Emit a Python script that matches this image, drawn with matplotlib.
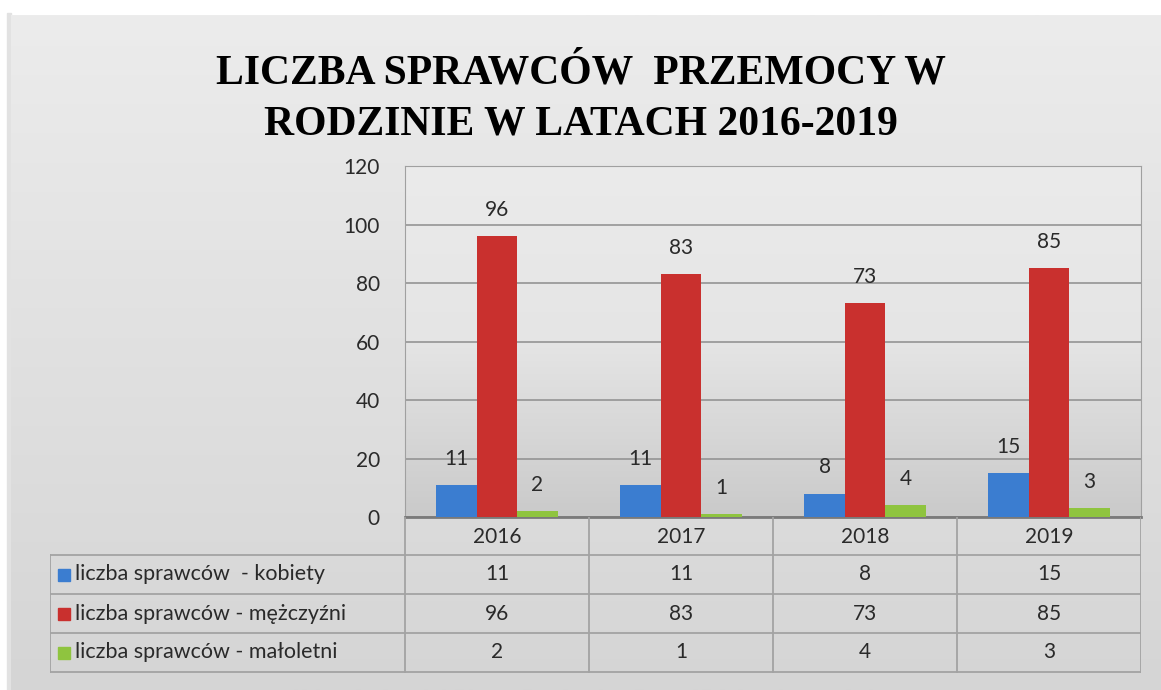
import matplotlib.pyplot as plt
import numpy as np
from matplotlib.patches import Rectangle

years = ["2016", "2017", "2018", "2019"]
series_names = ["liczba sprawców  - kobiety",
                "liczba sprawców - mężczyźni",
                "liczba sprawców - małoletni"]
kobiety = [11, 11, 8, 15]
mezczyzni = [96, 83, 73, 85]
maloletni = [2, 1, 4, 3]
colors = ["#3b7dd0", "#c9302e", "#8fc43f"]
title = "LICZBA SPRAWCÓW  PRZEMOCY W\nRODZINIE W LATACH 2016-2019"

W, H = 1161, 690
font = "Lato"
txt = "#2a2a2a"
grid = "#949494"
fs = 15


def px_axes(fig, left, top, right, bottom, **kw):
    return fig.add_axes([left / W, 1 - bottom / H, (right - left) / W, (bottom - top) / H], **kw)


fig = plt.figure(figsize=(W / 100, H / 100), dpi=100, facecolor="white")

# outer chart background with vertical gradient
bg = px_axes(fig, 0, 0, W, H)
bg.set_xlim(0, W)
bg.set_ylim(H, 0)
bg.axis("off")
grad = np.linspace(0, 1, 256).reshape(-1, 1)
bg.imshow(grad, cmap=plt.matplotlib.colors.LinearSegmentedColormap.from_list("g", ["#ececec", "#d5d5d5"]),
          extent=(11, W, H, 15), aspect="auto", zorder=1)
bg.add_patch(Rectangle((7, 13), 4, H, color="#e2e2e2", zorder=0))

fig.text(0.5, 1 - 99 / H, title, ha="center", va="center", fontsize=30,
         fontweight="bold", family="Liberation Serif", linespacing=1.45, color="black")

# main plot area
ax = px_axes(fig, 405, 166, 1141, 517)
ax.set_xlim(-0.5, 3.5)
ax.set_ylim(0, 120)
ax.imshow(grad, cmap=plt.matplotlib.colors.LinearSegmentedColormap.from_list("p", ["#ebebeb", "#e5e5e5", "#cacaca"]),
          extent=(-0.5, 3.5, 0, 120), aspect="auto", zorder=0)
ax.set_yticks(range(0, 121, 20))
ax.set_xticks([])
ax.grid(axis="y", color=grid, linewidth=1.2, zorder=1)
ax.tick_params(axis="y", length=0, pad=18, labelsize=fs, labelcolor=txt)
for lab in ax.get_yticklabels():
    lab.set_family(font)
for side in ["top", "right", "left"]:
    ax.spines[side].set_color("#a0a0a0")
ax.spines["bottom"].set_color("#7a7a7a")
ax.spines["bottom"].set_linewidth(2)

x = np.arange(len(years))
bw = 0.22
for i, (vals, c) in enumerate(zip([kobiety, mezczyzni, maloletni], colors)):
    pos = x + (i - 1) * bw
    ax.bar(pos, vals, bw, color=c, zorder=3)
    for p, v in zip(pos, vals):
        ax.text(p, v + 9, str(v), ha="center", va="center", fontsize=fs,
                family=font, color=txt, zorder=4)

# data table
tb = px_axes(fig, 50, 517, 1141, 673)
tb.set_xlim(50, 1141)
tb.set_ylim(673, 517)
tb.axis("off")
col_edges = np.linspace(405, 1141, len(years) + 1)
row_edges = [517, 555, 594, 633, 672]
lc = "#a3a3a3"
lw = 1.3
for xe in col_edges:
    tb.plot([xe, xe], [row_edges[0], row_edges[-1]], color=lc, lw=lw)
tb.plot([50, 50], [row_edges[1], row_edges[-1]], color=lc, lw=lw)
for ye in row_edges[1:]:
    tb.plot([50, 1141], [ye, ye], color=lc, lw=lw)
for k, yr in enumerate(years):
    xc = (col_edges[k] + col_edges[k + 1]) / 2
    tb.text(xc, (row_edges[0] + row_edges[1]) / 2 + 1, yr, ha="center", va="center",
            fontsize=fs, family=font, color=txt)
for r, (name, vals, c) in enumerate(zip(series_names, [kobiety, mezczyzni, maloletni], colors)):
    yc = (row_edges[r + 1] + row_edges[r + 2]) / 2
    tb.add_patch(Rectangle((58, yc - 6), 12, 12, color=c))
    tb.text(75, yc, name, ha="left", va="center", fontsize=fs + 0.5, family=font, color=txt)
    for k, v in enumerate(vals):
        xc = (col_edges[k] + col_edges[k + 1]) / 2
        tb.text(xc, yc, str(v), ha="center", va="center", fontsize=fs, family=font, color=txt)

fig.savefig("out.png", dpi=100, facecolor=fig.get_facecolor())
